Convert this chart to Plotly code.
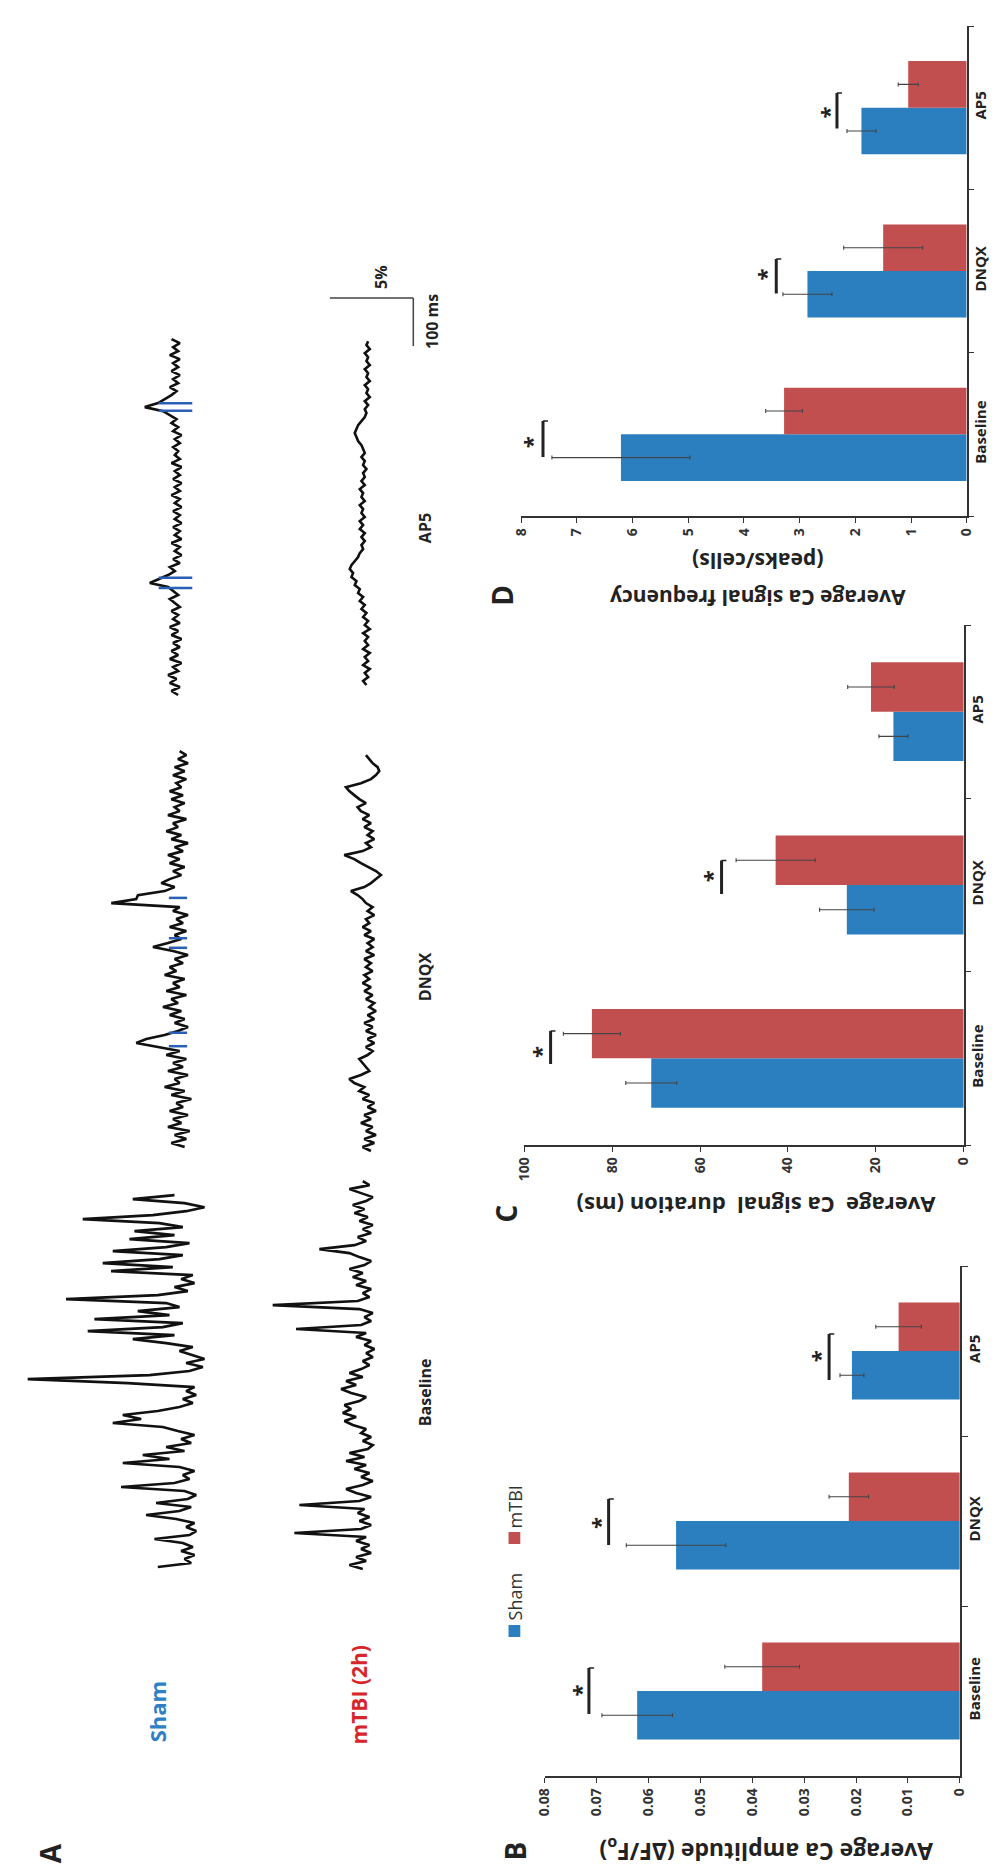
import plotly.graph_objects as go

W, H = 1003, 1870
FONT = "Open Sans"
BLUE = "#2b7fbf"
RED = "#c24f50"
DARK = "#333333"

# ---------------- data: bar panels ----------------
categories = ["Baseline", "DNQX", "AP5"]

amp_sham = [0.0622, 0.0547, 0.0208]
amp_sham_err = [0.0068, 0.0096, 0.0023]
amp_mtbi = [0.0381, 0.0214, 0.0118]
amp_mtbi_err = [0.0072, 0.0038, 0.0044]
amp_ticks = [0, 0.01, 0.02, 0.03, 0.04, 0.05, 0.06, 0.07, 0.08]
amp_ticklabels = ["0", "0.01", "0.02", "0.03", "0.04", "0.05", "0.06", "0.07", "0.08"]

dur_sham = [71.1, 26.6, 16.0]
dur_sham_err = [5.8, 6.2, 3.3]
dur_mtbi = [84.6, 42.8, 21.1]
dur_mtbi_err = [6.5, 9.0, 5.3]
dur_ticks = [0, 20, 40, 60, 80, 100]

freq_sham = [6.21, 2.86, 1.89]
freq_sham_err = [1.24, 0.44, 0.26]
freq_mtbi = [3.28, 1.50, 1.05]
freq_mtbi_err = [0.33, 0.71, 0.18]
freq_ticks = [0, 1, 2, 3, 4, 5, 6, 7, 8]

# ---------------- data: panel A traces (dF/F, %), one sample every DT ms ----------------
DT = 8.33
sham_baseline = [2.5, 0.5, 0.9, 0.3, 1.1, 0.4, 1.0, 2.7, 0.6, 0.2,
                 0.8, 0.3, 1.4, 3.2, 1.2, 0.5, 2.6, 0.7, 0.2, 0.9,
                 4.7, 1.5, 0.6, 1.0, 0.3, 1.2, 4.6, 1.8, 3.4, 0.9,
                 2.0, 0.5, 1.1, 0.3, 1.3, 2.2, 5.2, 3.5, 4.6, 2.5,
                 1.2, 0.4, 1.0, 0.2, 0.8, 0.3, 4.3, 10.3, 3.0, 0.6,
                 -0.2, 0.8, -0.3, 0.5, 1.2, 0.4, 2.0, 4.0, 1.5, 6.7,
                 2.2, 1.0, 6.3, 1.8, 3.7, 1.2, 2.0, 8.0, 2.5, 0.7,
                 1.5, 0.3, 1.1, 0.4, 5.3, 1.6, 5.8, 2.4, 1.0, 5.2,
                 2.0, 0.6, 4.2, 1.5, 3.9, 1.0, 2.4, 7.0, 2.8, 0.8,
                 -0.3, 0.9, 4.0, 1.5]
mtbi_baseline = [0.8, 1.6, 0.6, 1.2, 0.3, 0.9, 0.4, 1.2, 0.6, 4.9,
                 0.9, 0.3, 1.0, 0.4, 1.1, 0.7, 4.6, 1.0, 0.3, 1.2,
                 1.8, 0.8, 0.2, 0.9, 0.4, 1.3, 0.6, 1.8, 0.7, 1.6,
                 0.5, 0.2, 0.8, 0.3, 0.9, 0.6, 1.4, 1.9, 1.2, 2.0,
                 1.5, 1.9, 1.0, 0.6, 1.5, 2.1, 1.2, 1.8, 0.8, 1.6,
                 0.9, 0.4, 0.8, 0.2, 0.6, 0.1, 0.7, 0.3, 1.2, 0.6,
                 4.8, 0.9, 0.3, 0.7, 0.2, 1.0, 6.2, 1.1, 0.4, 0.8,
                 0.3, 1.2, 0.6, 1.4, 0.8, 1.6, 0.7, 0.3, 1.0, 1.6,
                 3.4, 1.3, 0.6, 1.1, 0.3, 0.8, 0.2, 1.0, 0.5, 1.3,
                 0.7, 1.4, 0.6, 0.2, 0.9, 1.6, 0.4, 0.8]
sham_dnqx = [0.6, 1.4, 0.5, 1.2, 0.3, 1.6, 0.8, 1.3, 0.4, 1.5,
             0.7, 1.1, 0.2, 1.4, 0.6, 1.8, 0.9, 1.2, 0.4, 1.6,
             0.7, 1.3, 0.5, 1.7, 0.9, 2.2, 3.5, 2.9, 1.8, 1.0,
             0.4, 1.2, 0.6, 1.5, 0.8, 1.9, 1.0, 1.4, 0.5, 1.7,
             0.9, 1.3, 0.6, 1.8, 1.1, 1.5, 0.7, 1.2, 0.4, 1.3,
             2.5, 1.6, 0.8, 1.2, 0.5, 1.5, 0.7, 1.1, 0.4, 1.3,
             0.9, 5.0, 3.5, 3.4, 1.8, 1.2, 2.0, 1.5, 0.8, 1.3,
             0.6, 1.5, 0.9, 1.6, 0.7, 1.2, 0.4, 1.4, 0.8, 1.7,
             1.0, 1.3, 0.5, 1.6, 0.9, 1.2, 0.6, 1.4, 0.7, 1.5,
             0.8, 1.1, 0.5, 1.3, 0.6, 1.2, 0.4, 1.0, 0.5, 0.9]
mtbi_dnqx = [0.6, 1.1, 0.4, 1.0, 0.3, 0.9, 0.5, 1.2, 0.6, 1.0,
             0.3, 0.8, 0.4, 1.1, 0.7, 1.3, 1.0, 1.6, 1.9, 1.2,
             0.7, 0.9, 1.1, 1.3, 0.8, 0.5, 0.9, 0.4, 0.8, 0.3,
             0.9, 0.5, 1.0, 0.4, 0.8, 0.3, 0.7, 0.4, 0.9, 0.5,
             1.0, 0.6, 1.1, 0.7, 1.0, 0.5, 0.9, 0.6, 1.0, 0.4,
             0.9, 0.5, 0.8, 0.4, 1.0, 0.6, 1.1, 0.7, 0.9, 0.4,
             0.8, 0.5, 0.9, 1.1, 1.4, 1.8, 1.0, 0.6, 0.3, 0.0,
             0.3, 0.8, 1.2, 1.6, 2.2, 1.1, 0.6, 0.9, 0.4, 0.8,
             0.5, 1.0, 0.6, 1.1, 0.7, 1.2, 1.4, 0.9, 1.3, 1.6,
             1.9, 2.1, 1.2, 0.6, 0.3, 0.1, 0.2, 0.5, 0.7, 0.9]
sham_ap5 = [0.4, 0.8, 0.3, 0.9, 0.5, 1.0, 0.4, 0.7, 0.2, 0.9,
            0.4, 0.8, 0.3, 0.7, 0.2, 0.8, 0.4, 0.9, 0.3, 0.7,
            0.4, 0.8, 0.3, 0.6, 0.9, 0.4, 0.7, 1.0, 2.1, 1.5,
            1.0, 0.6, 0.9, 0.3, 0.7, 0.2, 0.6, 0.3, 0.8, 0.2,
            0.6, 0.3, 0.7, 0.2, 0.6, 0.3, 0.7, 0.2, 0.6, 0.3,
            0.8, 0.3, 0.6, 0.2, 0.7, 0.3, 0.6, 0.2, 0.8, 0.3,
            0.6, 0.4, 0.7, 0.3, 0.6, 0.2, 0.7, 0.4, 0.8, 0.5,
            0.9, 1.3, 2.4, 1.6, 1.2, 0.8, 0.5, 0.9, 0.4, 0.7,
            0.3, 0.8, 0.4, 0.7, 0.3, 0.9, 0.4, 0.7, 0.3, 0.8]
mtbi_ap5 = [0.4, 0.6, 0.3, 0.5, 0.2, 0.6, 0.3, 0.5, 0.2, 0.6,
            0.3, 0.5, 0.3, 0.6, 0.2, 0.5, 0.3, 0.6, 0.4, 0.7,
            0.5, 0.8, 0.6, 0.9, 0.8, 1.1, 1.0, 1.3, 1.2, 1.4,
            1.3, 1.1, 0.9, 0.8, 0.6, 0.7, 0.5, 0.7, 0.5, 0.8,
            0.6, 0.8, 0.5, 0.7, 0.6, 0.8, 0.5, 0.7, 0.6, 0.8,
            0.5, 0.7, 0.5, 0.6, 0.4, 0.6, 0.5, 0.7, 0.5, 0.6,
            0.7, 0.9, 1.0, 1.1, 1.0, 0.9, 0.7, 0.5, 0.4, 0.5,
            0.3, 0.5, 0.2, 0.4, 0.3, 0.5, 0.2, 0.4, 0.3, 0.5,
            0.2, 0.4, 0.3, 0.5, 0.2, 0.4, 0.3]
# event markers (ms from trace start)
sham_dnqx_events = [210, 238, 415, 435, 519]
sham_ap5_events = [223, 244, 592, 608]

# ---------------- layout helpers (pixel -> paper) ----------------
def px(x):
    return x / W

def py(y):
    return 1 - y / H

fig = go.Figure()

# ---------------- bar panels ----------------
def add_bars(xa, ya, sham, sham_err, mtbi, mtbi_err):
    for vals, errs, col in ((sham, sham_err, BLUE), (mtbi, mtbi_err, RED)):
        fig.add_trace(go.Bar(
            y=categories, x=vals, orientation="h", marker=dict(color=col, line=dict(width=0)),
            error_x=dict(type="data", array=errs, symmetric=True, color="#444444",
                         thickness=1.1, width=2),
            xaxis=xa, yaxis=ya, showlegend=False))

add_bars("x", "y", amp_sham, amp_sham_err, amp_mtbi, amp_mtbi_err)
add_bars("x2", "y2", dur_sham, dur_sham_err, dur_mtbi, dur_mtbi_err)
add_bars("x3", "y3", freq_sham, freq_sham_err, freq_mtbi, freq_mtbi_err)

# ---------------- panel A traces ----------------
# axis units: x = dF/F (%) with per-trace offsets, y = time (ms)
A_X_RANGE = [440 / 17.0, 0]
A_Y_RANGE = [0, 1350 / 0.48]
trace_layout = [
    (sham_baseline, 15.0, 85.4),
    (mtbi_baseline, 4.41, 81.3),
    (sham_dnqx, 15.29, 960.4),
    (mtbi_dnqx, 4.12, 952.1),
    (sham_ap5, 15.88, 1902.1),
    (mtbi_ap5, 4.59, 1922.9),
]
for vals, off, t0 in trace_layout:
    fig.add_trace(go.Scatter(
        x=[off + v for v in vals], y=[t0 + i * DT for i in range(len(vals))],
        mode="lines", line=dict(color="#111111", width=2.6),
        xaxis="x4", yaxis="y4", showlegend=False, hoverinfo="skip"))

fig.add_trace(go.Scatter(
    x=[15.29 + 1.0] * len(sham_dnqx_events), y=[960.4 + t for t in sham_dnqx_events],
    mode="markers", marker=dict(symbol="line-ew", size=13, line=dict(color="#2a5fb5", width=2.5)),
    xaxis="x4", yaxis="y4", showlegend=False, hoverinfo="skip"))
fig.add_trace(go.Scatter(
    x=[15.88 + 0.56] * len(sham_ap5_events), y=[1902.1 + t for t in sham_ap5_events],
    mode="markers", marker=dict(symbol="line-ew", size=24, line=dict(color="#2a5fb5", width=2.5)),
    xaxis="x4", yaxis="y4", showlegend=False, hoverinfo="skip"))

# ---------------- axes ----------------
def value_axis(domain, rng, tickvals, ticktext, anchor):
    return dict(domain=domain, range=rng, anchor=anchor, tickvals=tickvals, ticktext=ticktext,
                ticks="outside", ticklen=5, tickwidth=1.3, tickcolor=DARK,
                showline=True, linecolor=DARK, linewidth=1.5, tickangle=-90,
                tickfont=dict(family=FONT, size=14, color=DARK, weight="bold"),
                showgrid=False, zeroline=False)

def cat_axis(domain, anchor):
    return dict(domain=domain, anchor=anchor, side="right", type="category",
                categoryorder="array", categoryarray=categories, range=[-0.5, 2.5],
                showline=True, linecolor=DARK, linewidth=1.5, ticks="outside",
                tickson="boundaries", ticklen=6, tickwidth=1.3, tickcolor=DARK, tickangle=-90,
                tickfont=dict(family=FONT, size=15, color="#222222", weight="bold"),
                showgrid=False, zeroline=False)

layout = dict(
    width=W, height=H, margin=dict(l=0, r=0, t=0, b=0),
    paper_bgcolor="white", plot_bgcolor="white",
    barmode="group", bargap=0.43, bargroupgap=0,
    font=dict(family=FONT, color=DARK),
    xaxis=value_axis([px(537), px(960)], [0.08, 0], amp_ticks, amp_ticklabels, "y"),
    yaxis=cat_axis([py(1768), py(1258)], "x"),
    xaxis2=value_axis([px(516), px(964)], [100, 0], dur_ticks, [str(t) for t in dur_ticks], "y2"),
    yaxis2=cat_axis([py(1137), py(617)], "x2"),
    xaxis3=value_axis([px(513), px(967)], [8, 0], freq_ticks, [str(t) for t in freq_ticks], "y3"),
    yaxis3=cat_axis([py(508), py(18)], "x3"),
    xaxis4=dict(domain=[px(0), px(440)], range=A_X_RANGE, anchor="y4", visible=False),
    yaxis4=dict(domain=[py(1600), py(250)], range=A_Y_RANGE, anchor="x4", visible=False),
)
fig.update_layout(**layout)

# ---------------- significance brackets ----------------
brackets = {
    ("x", "y"): dict(tick=0.001, items=[(0.0715, -0.135, 0.135, 0.0733, 0.0),
                                        (0.0677, 0.859, 1.129, 0.0697, 0.99),
                                        (0.0252, 1.83, 2.10, 0.0271, 1.97)]),
    ("x2", "y2"): dict(tick=1.1, items=[(94.0, -0.033, 0.158, 96.3, 0.04),
                                        (55.1, 0.948, 1.142, 57.5, 1.05)]),
    ("x3", "y3"): dict(tick=0.09, items=[(7.61, -0.139, 0.082, 7.83, -0.05),
                                         (3.42, 0.862, 1.074, 3.62, 0.98),
                                         (2.33, 1.872, 2.09, 2.49, 1.97)]),
}
for (xa, ya), spec in brackets.items():
    for xb, c0, c1, xs, cs in spec["items"]:
        fig.add_shape(type="line", xref=xa, yref=ya, x0=xb, x1=xb, y0=c0, y1=c1,
                      line=dict(color="#222222", width=3))
        fig.add_shape(type="line", xref=xa, yref=ya, x0=xb, x1=xb - spec["tick"], y0=c1, y1=c1,
                      line=dict(color="#222222", width=1.5))
        fig.add_annotation(x=xs, y=cs, xref=xa, yref=ya, text="<b>*</b>", showarrow=False,
                           textangle=-90, font=dict(family=FONT, size=22, color="#222222"))

# ---------------- scale bar (panel A) ----------------
fig.add_shape(type="line", xref="x4", yref="y4", x0=2.18, x1=2.18 + 5, y0=2729, y1=2729,
              line=dict(color="#444444", width=1.5))
fig.add_shape(type="line", xref="x4", yref="y4", x0=2.18, x1=2.18, y0=2729 - 100, y1=2729,
              line=dict(color="#444444", width=1.5))

# ---------------- text ----------------
def label(x, y, text, size, color="#222222", angle=-90, bold=True):
    fig.add_annotation(x=px(x), y=py(y), xref="paper", yref="paper", text=text,
                       showarrow=False, textangle=angle, xanchor="center", yanchor="middle",
                       font=dict(family=FONT, size=size, color=color,
                                 weight="bold" if bold else "normal"))

label(33, 1845, "A", 28)
label(507, 1843, "B", 28)
label(497, 1206, "C", 28)
label(493, 587, "D", 28)

label(142, 1704, "Sham", 22, color="#2e7fc4")
label(348, 1687, "mTBI (2h)", 21, color="#d7262b")
label(415, 1384, "Baseline", 16)
label(415, 969, "DNQX", 16)
label(415, 520, "AP5", 16)
label(370, 269, "5%", 16)
label(422, 314, "100 ms", 16)

label(763, 1843, "Average Ca amplitude (ΔF/F<sub>o</sub>)", 23, angle=180)
label(752, 1198, "Average&nbsp; Ca signal&nbsp; duration (ms)", 22, angle=180)
label(754, 590, "Average Ca signal frequency", 21, angle=180)
label(754, 553, "(peaks/cells)", 21, angle=180)

# legend for panel B (drawn by hand so it can be rotated)
for yc, col in ((1623, BLUE), (1530, RED)):
    fig.add_shape(type="rect", xref="paper", yref="paper", x0=px(500), x1=px(512),
                  y0=py(yc + 6), y1=py(yc - 6), fillcolor=col, line=dict(width=0))
label(507, 1588, "Sham", 18, color="#333333", bold=False)
label(507, 1499, "mTBI", 18, color="#333333", bold=False)

fig.write_html("out.html")
